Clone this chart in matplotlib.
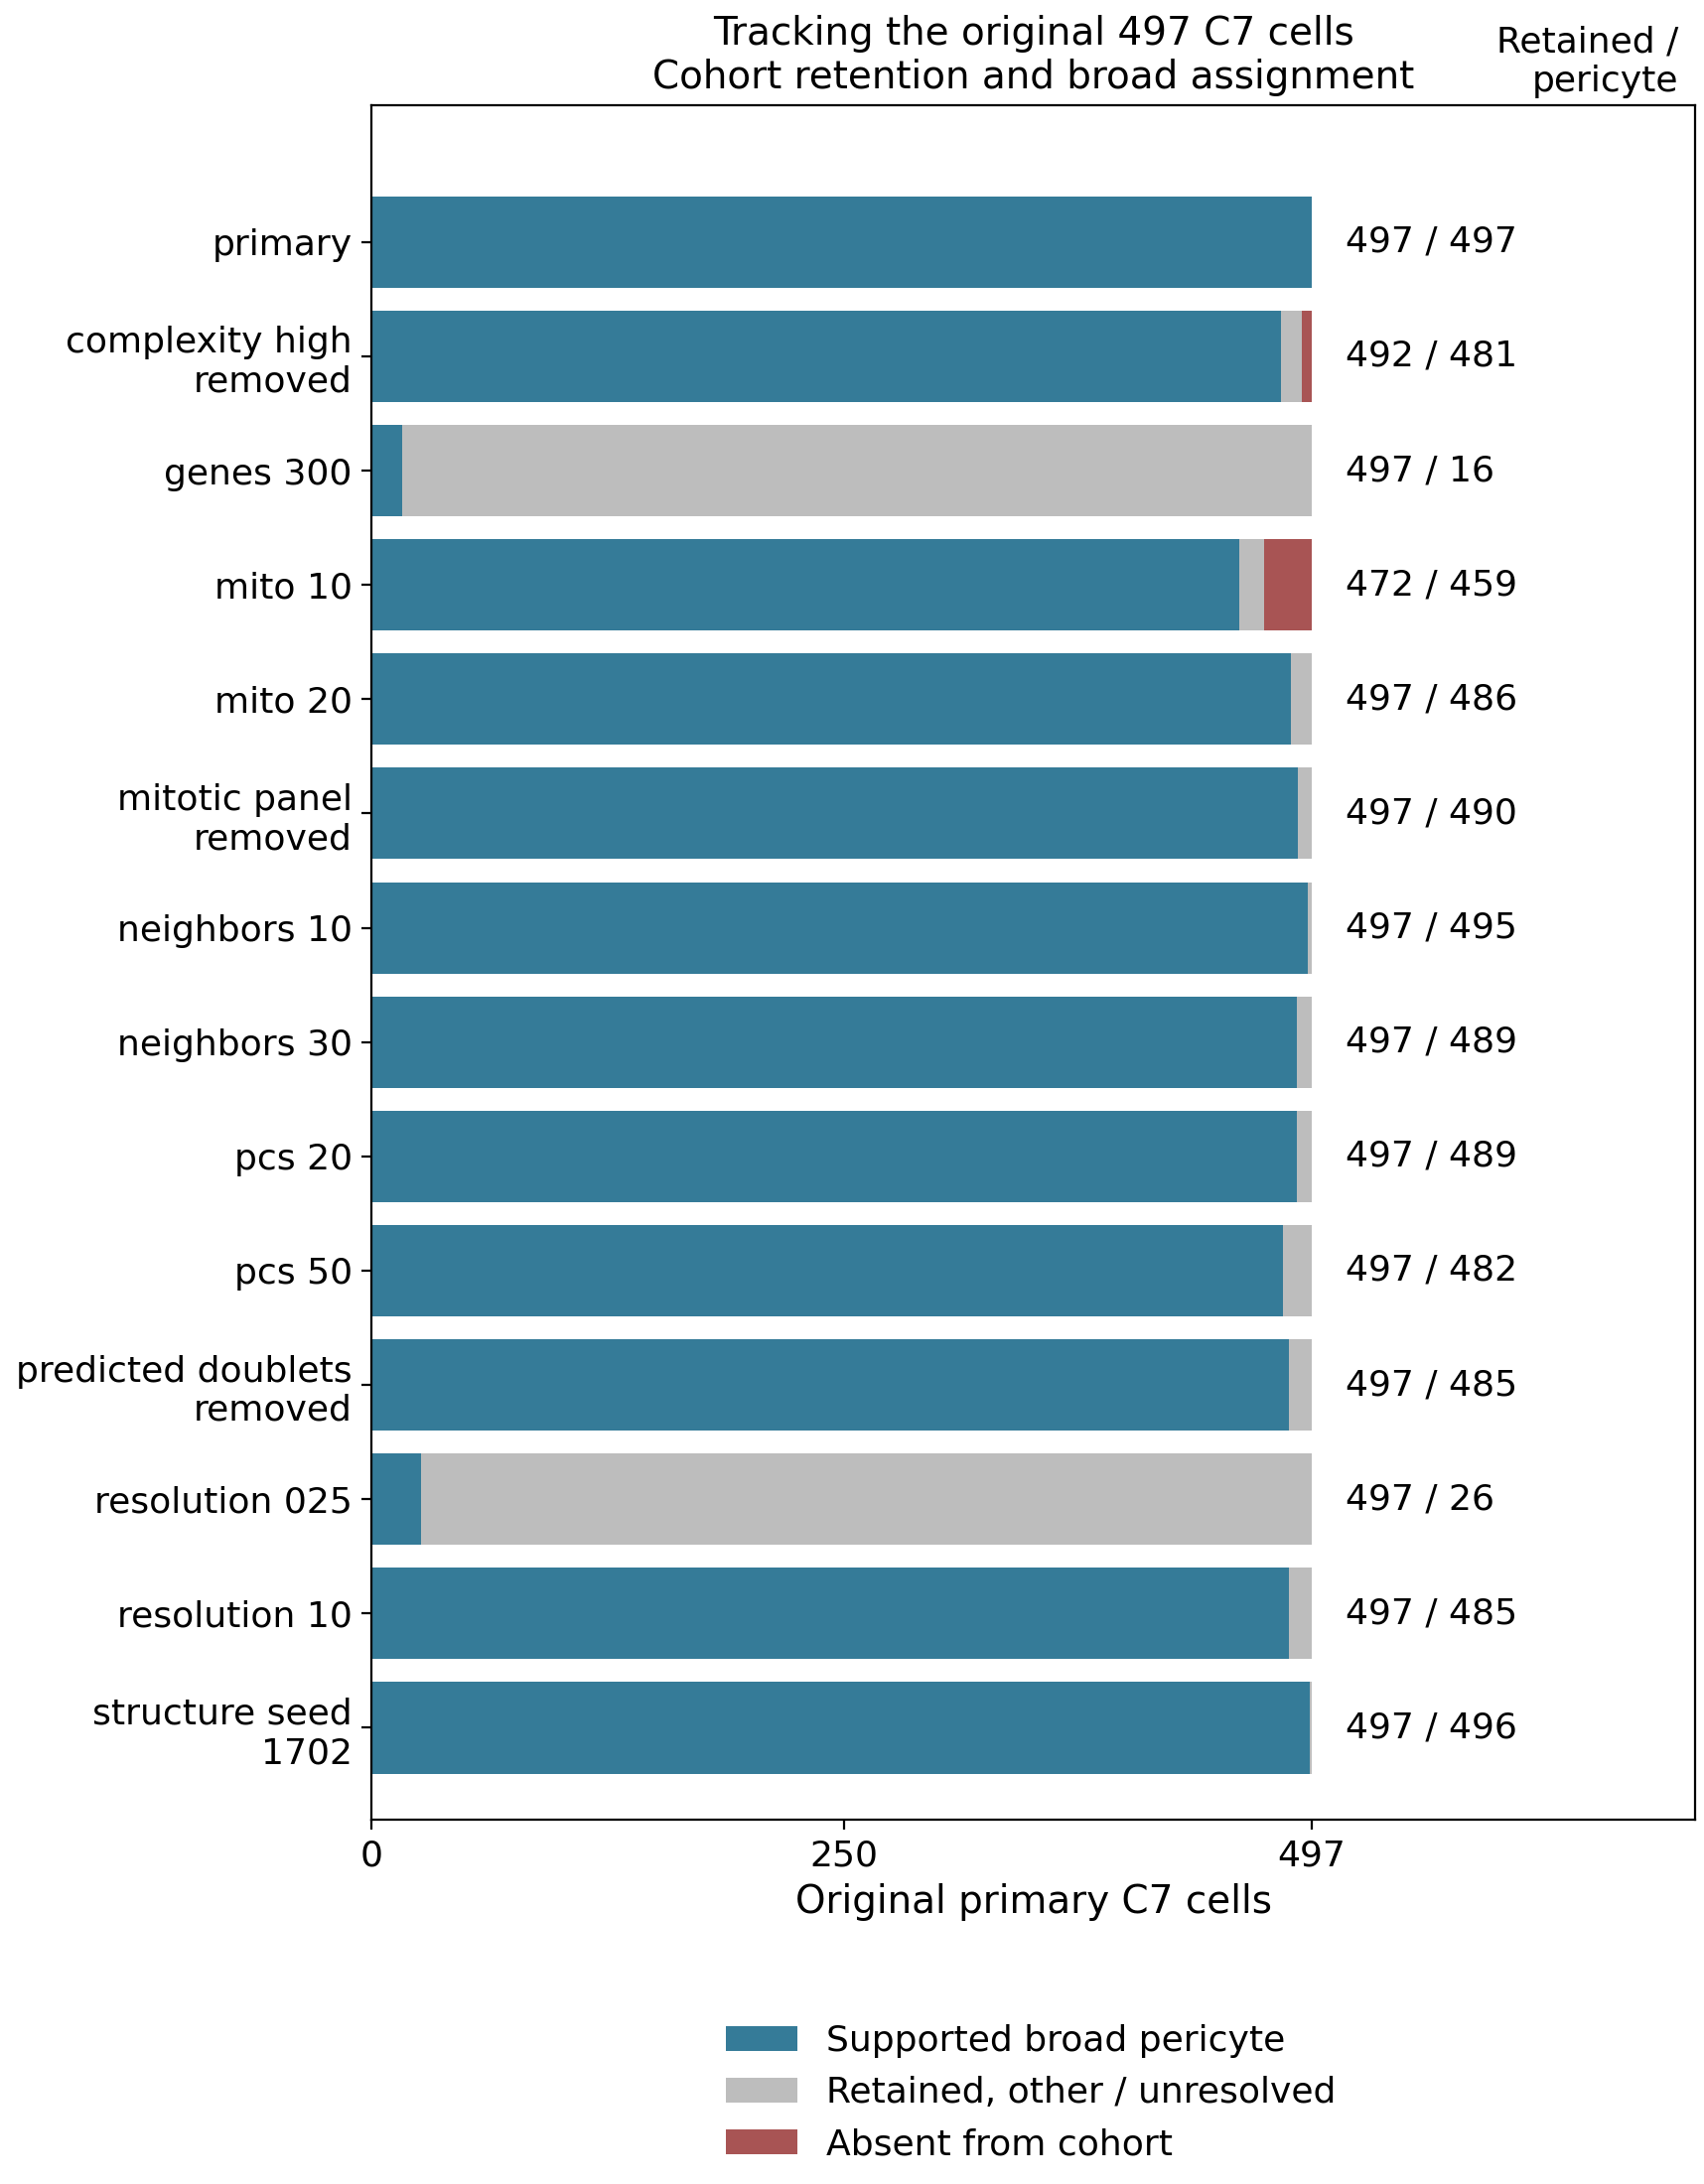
import numpy as np
import matplotlib.pyplot as plt

# data
conditions = ["primary", "complexity high\nremoved", "genes 300", "mito 10", "mito 20",
              "mitotic panel\nremoved", "neighbors 10", "neighbors 30", "pcs 20", "pcs 50",
              "predicted doublets\nremoved", "resolution 025", "resolution 10",
              "structure seed\n1702"]
retained = np.array([497, 492, 497, 472, 497, 497, 497, 497, 497, 497, 497, 497, 497, 497])
pericyte = np.array([497, 481, 16, 459, 486, 490, 495, 489, 489, 482, 485, 26, 485, 496])
total = 497

other = retained - pericyte
absent = total - retained

plt.rcParams["font.size"] = 13
fig = plt.figure(figsize=(8.58, 11), dpi=200)
ax = fig.add_axes([0.218, 0.167, 0.777, 0.785])

y = np.arange(len(conditions))
h = 0.8
ax.barh(y, pericyte, height=h, color="#357b98", label="Supported broad pericyte")
ax.barh(y, other, left=pericyte, height=h, color="#bdbdbd", label="Retained, other / unresolved")
ax.barh(y, absent, left=retained, height=h, color="#a85454", label="Absent from cohort")

for yi, r, p in zip(y, retained, pericyte):
    ax.text(515, yi, f"{r} / {p}", va="center", ha="left", fontsize=13)

ax.set_yticks(y)
ax.set_yticklabels(conditions)
ax.set_ylim(len(conditions) - 0.2, -1.2)
ax.set_xlim(0, 700)
ax.set_xticks([0, 250, 497])
ax.set_xlabel("Original primary C7 cells", fontsize=14)
ax.set_title("Tracking the original 497 C7 cells\nCohort retention and broad assignment", fontsize=14)
fig.text(0.985, 0.955, "Retained /\npericyte", ha="right", va="bottom", fontsize=13)

fig.legend(loc="upper center", bbox_to_anchor=(0.605, 0.088), frameon=False, fontsize=13)
fig.savefig("out.png")
